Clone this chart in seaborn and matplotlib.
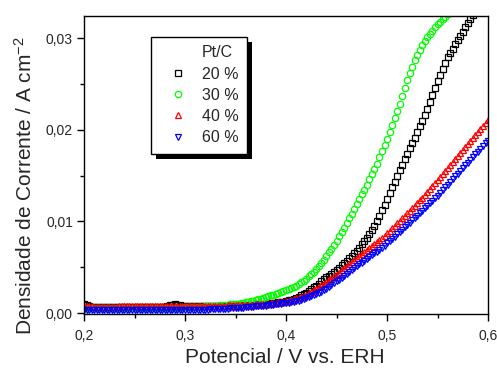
import matplotlib
matplotlib.use("Agg")
import matplotlib.pyplot as plt
from matplotlib.lines import Line2D
from matplotlib.patches import Rectangle
from matplotlib.ticker import MultipleLocator, FuncFormatter
import seaborn as sns
import pandas as pd

# potential sweep (mV vs. ERH)
potencial_mv = [
    200, 202.5, 205, 207.5, 210, 212.5, 215, 217.5,
    220, 222.5, 225, 227.5, 230, 232.5, 235, 237.5,
    240, 242.5, 245, 247.5, 250, 252.5, 255, 257.5,
    260, 262.5, 265, 267.5, 270, 272.5, 275, 277.5,
    280, 282.5, 285, 287.5, 290, 292.5, 295, 297.5,
    300, 302.5, 305, 307.5, 310, 312.5, 315, 317.5,
    320, 322.5, 325, 327.5, 330, 332.5, 335, 337.5,
    340, 342.5, 345, 347.5, 350, 352.5, 355, 357.5,
    360, 362.5, 365, 367.5, 370, 372.5, 375, 377.5,
    380, 382.5, 385, 387.5, 390, 392.5, 395, 397.5,
    400, 402.5, 405, 407.5, 410, 412.5, 415, 417.5,
    420, 422.5, 425, 427.5, 430, 432.5, 435, 437.5,
    440, 442.5, 445, 447.5, 450, 452.5, 455, 457.5,
    460, 462.5, 465, 467.5, 470, 472.5, 475, 477.5,
    480, 482.5, 485, 487.5, 490, 492.5, 495, 497.5,
    500, 502.5, 505, 507.5, 510, 512.5, 515, 517.5,
    520, 522.5, 525, 527.5, 530, 532.5, 535, 537.5,
    540, 542.5, 545, 547.5, 550, 552.5, 555, 557.5,
    560, 562.5, 565, 567.5, 570, 572.5, 575, 577.5,
    580, 582.5, 585, 587.5, 590, 592.5, 595, 597.5,
    600,
]

# current density, units of 1e-5 A cm-2
pt20 = [
    95, 85, 75, 71, 68, 67, 66, 66, 65, 65, 65, 65, 65, 65, 65, 65, 65, 65, 65, 65,
    65, 65, 65, 65, 65, 65, 65, 66, 66, 67, 68, 69, 70, 78, 86, 93, 95, 92, 88, 82,
    75, 73, 72, 72, 72, 72, 72, 72, 72, 72, 73, 73, 74, 74, 75, 75, 76, 77, 78, 79,
    80, 81, 83, 84, 86, 87, 89, 91, 93, 95, 97, 98, 100, 103, 106, 110, 114, 118, 122, 126,
    130, 138, 147, 156, 165, 178, 192, 206, 220, 240, 260, 280, 300, 322, 345, 367, 390, 410, 430, 450,
    470, 495, 520, 545, 570, 597, 625, 652, 680, 715, 750, 785, 820, 865, 910, 955, 1000, 1060, 1120, 1180,
    1240, 1305, 1370, 1435, 1500, 1560, 1620, 1680, 1740, 1797, 1855, 1912, 1970, 2035, 2100, 2165, 2230, 2305, 2380, 2455,
    2530, 2595, 2660, 2725, 2790, 2837, 2885, 2932, 2980, 3025, 3070, 3115, 3160, 3205, 3250,
]
pt30 = [
    55, 55, 54, 54, 54, 53, 53, 53, 53, 52, 52, 52, 52, 52, 52, 52, 52, 52, 52, 52,
    52, 52, 53, 53, 53, 53, 54, 54, 54, 55, 55, 55, 56, 56, 57, 57, 58, 59, 60, 61,
    62, 63, 64, 65, 66, 67, 68, 70, 72, 73, 75, 77, 79, 81, 83, 85, 88, 91, 94, 97,
    100, 104, 109, 113, 118, 124, 130, 136, 143, 151, 159, 167, 175, 184, 192, 201, 210, 220, 230, 240,
    250, 262, 274, 287, 300, 318, 336, 355, 375, 400, 426, 453, 480, 513, 548, 583, 620, 662, 704, 746,
    790, 837, 884, 932, 980, 1032, 1085, 1137, 1190, 1242, 1295, 1347, 1400, 1457, 1515, 1572, 1630, 1697, 1765, 1832,
    1900, 1975, 2050, 2125, 2200, 2285, 2370, 2455, 2540, 2615, 2685, 2755, 2820, 2870, 2920, 2965, 3010, 3045, 3080, 3115,
    3150, 3178, 3205, 3233, 3260, 3290,
]
pt40 = [
    74, 73, 72, 72, 71, 71, 71, 71, 71, 71, 71, 71, 71, 71, 72, 72, 72, 72, 72, 72,
    72, 72, 72, 72, 72, 72, 72, 72, 72, 72, 72, 73, 73, 73, 73, 73, 74, 74, 74, 74,
    74, 74, 74, 74, 74, 75, 75, 75, 75, 76, 76, 77, 78, 79, 80, 81, 82, 83, 84, 84,
    85, 86, 87, 88, 89, 90, 92, 93, 95, 96, 98, 99, 100, 103, 106, 110, 114, 118, 122, 126,
    130, 137, 145, 152, 160, 170, 180, 190, 200, 216, 232, 248, 265, 284, 302, 321, 340, 360, 380, 400,
    420, 442, 465, 487, 510, 532, 555, 577, 600, 622, 645, 667, 690, 711, 732, 754, 775, 799, 822, 846,
    870, 897, 925, 952, 980, 1007, 1035, 1062, 1090, 1117, 1145, 1172, 1200, 1230, 1260, 1290, 1320, 1352, 1385, 1417,
    1450, 1482, 1515, 1547, 1580, 1612, 1645, 1677, 1710, 1742, 1775, 1807, 1840, 1872, 1905, 1937, 1970, 2005, 2040, 2075,
    2110,
]
pt60 = [
    33, 32, 32, 31, 31, 31, 30, 30, 30, 30, 30, 30, 30, 30, 30, 30, 30, 30, 30, 30,
    30, 30, 30, 30, 30, 30, 30, 30, 30, 30, 30, 31, 31, 31, 31, 31, 32, 32, 32, 32,
    33, 33, 34, 34, 35, 35, 36, 37, 38, 39, 40, 41, 42, 43, 44, 46, 48, 49, 51, 52,
    54, 56, 58, 60, 62, 64, 67, 69, 72, 74, 77, 79, 82, 85, 88, 91, 95, 99, 103, 106,
    110, 115, 120, 125, 130, 137, 145, 152, 160, 171, 182, 193, 205, 220, 235, 250, 265, 285, 305, 325,
    345, 366, 387, 408, 430, 450, 470, 490, 510, 530, 550, 570, 590, 610, 630, 650, 670, 692, 715, 737,
    760, 785, 810, 835, 860, 885, 910, 935, 960, 985, 1010, 1035, 1060, 1087, 1115, 1142, 1170, 1197, 1225, 1252,
    1280, 1310, 1340, 1370, 1400, 1430, 1460, 1490, 1520, 1550, 1580, 1610, 1640, 1670, 1700, 1730, 1760, 1790, 1820, 1850,
    1880,
]

rotulos = ["20 %", "30 %", "40 %", "60 %"]
series = [pt20, pt30, pt40, pt60]
cores = {"20 %": "#000000", "30 %": "#00ff00", "40 %": "#ff0000", "60 %": "#0000ff"}
marcadores = {"20 %": "s", "30 %": "o", "40 %": "^", "60 %": "v"}

frames = []
for rot, ys in zip(rotulos, series):
    frames.append(pd.DataFrame({
        "E": [v / 1000 for v in potencial_mv[:len(ys)]],
        "j": [y * 1e-5 for y in ys],
        "Pt/C": rot,
    }))
df = pd.concat(frames, ignore_index=True)

sns.set_theme(style="ticks")
plt.rcParams["font.family"] = ["Liberation Sans", "DejaVu Sans"]
plt.rcParams["mathtext.fontset"] = "custom"
plt.rcParams["mathtext.rm"] = "Liberation Sans"
plt.rcParams["mathtext.it"] = "Liberation Sans:italic"

fig = plt.figure(figsize=(4.97, 3.68), dpi=100)
ax = fig.add_axes([0.169, 0.1467, 0.813, 0.8098])

sns.lineplot(data=df, x="E", y="j", hue="Pt/C", style="Pt/C",
             palette=cores, markers=marcadores, dashes=False,
             linestyle="", markersize=4.6, mfc="none", mec="auto", mew=0.9,
             errorbar=None, sort=False, legend=False, ax=ax)

ax.set_xlim(0.2, 0.6)
ax.set_ylim(-0.0001, 0.0324)
ax.xaxis.set_major_locator(MultipleLocator(0.1))
ax.xaxis.set_minor_locator(MultipleLocator(0.05))
ax.yaxis.set_major_locator(MultipleLocator(0.01))
ax.yaxis.set_minor_locator(MultipleLocator(0.005))
ax.xaxis.set_major_formatter(FuncFormatter(lambda v, p: f"{v:.1f}".replace(".", ",")))
ax.yaxis.set_major_formatter(FuncFormatter(lambda v, p: f"{v:.2f}".replace(".", ",")))
ax.tick_params(which="major", direction="out", length=5, width=1, labelsize=10, color="black")
ax.tick_params(axis="x", which="major", pad=6)
ax.tick_params(axis="y", which="major", pad=3)
ax.tick_params(which="minor", direction="out", length=3, width=1, color="black")
for s in ax.spines.values():
    s.set_color("black")
    s.set_linewidth(1)
ax.set_xlabel("Potencial / V vs. ERH", fontsize=15)
ax.set_ylabel("Densidade de Corrente / A cm$^{-2}$", fontsize=15)
ax.xaxis.set_label_coords(0.4975, -0.113)
ax.yaxis.set_label_coords(-0.119, 0.43)

handles = [Line2D([], [], linestyle="", marker=None, label="Pt/C")]
for rot in rotulos:
    handles.append(Line2D([], [], linestyle="", marker=marcadores[rot], color=cores[rot],
                          mfc="none", mew=0.9, markersize=4.6, label=rot))
leg = ax.legend(handles=handles, loc="upper left", bbox_to_anchor=(0.165, 0.931),
                borderaxespad=0, fontsize=11.5, frameon=True, fancybox=False,
                handlelength=2.3, handletextpad=0.36, labelspacing=0.39,
                borderpad=0.55, framealpha=1)
leg.get_frame().set_edgecolor("black")
leg.get_frame().set_linewidth(1)

# solid drop shadow behind the legend box
fig.canvas.draw()
bb = leg.get_window_extent()
sombra = Rectangle((bb.x0 + 5, bb.y0 - 5), bb.width, bb.height, transform=None,
                   facecolor="black", edgecolor="none", zorder=4.9, clip_on=False)
ax.add_artist(sombra)

fig.savefig("out.png", dpi=100)
plt.close(fig)
